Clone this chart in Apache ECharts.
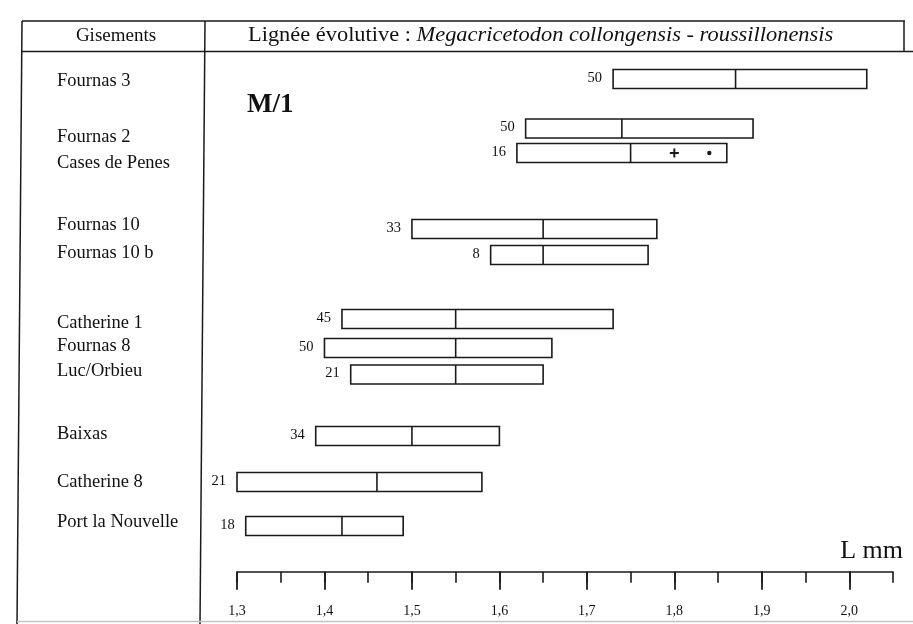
<!DOCTYPE html>
<html>
<head>
<meta charset="utf-8">
<script src="https://cdn.jsdelivr.net/npm/echarts@6/dist/echarts.min.js"></script>
<style>
  html, body { margin: 0; padding: 0; background: #fff; }
  #chart { width: 913px; height: 624px; }
</style>
</head>
<body>
<div id="chart"></div>
<script>
// ---- Data ----
const sites = ['Fournas 3', 'Fournas 2', 'Cases de Penes', 'Fournas 10', 'Fournas 10 b',
  'Catherine 1', 'Fournas 8', 'Luc/Orbieu', 'Baixas', 'Catherine 8', 'Port la Nouvelle'];
const nValues = [50, 50, 16, 33, 8, 45, 50, 21, 34, 21, 18];
const minValues = [1.73, 1.63, 1.62, 1.50, 1.59, 1.42, 1.40, 1.43, 1.39, 1.30, 1.31];
const medianValues = [1.87, 1.74, 1.75, 1.65, 1.65, 1.55, 1.55, 1.55, 1.50, 1.46, 1.42];
const maxValues = [2.02, 1.89, 1.86, 1.78, 1.77, 1.73, 1.66, 1.65, 1.60, 1.58, 1.49];
// vertical row positions (rows of the figure, in row units)
const rowPos = [1.08, 3.06, 4.04, 7.08, 8.12, 10.68, 11.84, 12.9, 15.36, 17.2, 18.96];
const labelRow = [1.15, 3.41, 4.43, 6.92, 8.04, 10.83, 11.75, 12.76, 15.28, 17.21, 18.79];
// extra marks on the Cases de Penes bar: '+' and '•'
const casesMarks = [1.80, 1.84];
const majorTicks = [1.3, 1.4, 1.5, 1.6, 1.7, 1.8, 1.9, 2.0];

const INK = '#1a1a1a';
const SERIF = '"Liberation Serif", "DejaVu Serif", serif';

const chart = echarts.init(document.getElementById('chart'), null, { renderer: 'canvas' });

const gridBase = { left: 237, right: 20, top: 52, bottom: 52.3 };

const boxData = sites.map((s, i) => [minValues[i], medianValues[i], maxValues[i], rowPos[i], nValues[i]]);
const labelData = sites.map((s, i) => [1.3, labelRow[i], s]);

const option = {
  animation: false,
  backgroundColor: '#fff',
  grid: [Object.assign({}, gridBase), Object.assign({}, gridBase)],
  xAxis: [
    {
      type: 'value', gridIndex: 0, min: 1.3, max: 2.05, interval: 0.05, position: 'bottom',
      axisLine: { show: true, onZero: false, lineStyle: { color: INK, width: 1.5 } },
      axisTick: { show: true, inside: false, length: 11, lineStyle: { color: INK, width: 1.6 } },
      axisLabel: { show: false },
      splitLine: { show: false }
    },
    {
      type: 'value', gridIndex: 1, min: 1.3, max: 2.05, interval: 0.1, position: 'bottom',
      axisLine: { show: false, onZero: false },
      axisTick: { show: true, inside: false, length: 18, customValues: majorTicks,
        lineStyle: { color: INK, width: 1.8 } },
      axisLabel: { show: true, customValues: majorTicks, margin: 33,
        fontFamily: SERIF, fontSize: 14, color: '#111',
        formatter: v => v.toFixed(1).replace('.', ',') },
      splitLine: { show: false }
    }
  ],
  yAxis: [
    { type: 'value', gridIndex: 0, min: 0, max: 20.79, inverse: true, show: false },
    { type: 'value', gridIndex: 1, min: 0, max: 20.79, inverse: true, show: false }
  ],
  series: [
    {
      type: 'custom', xAxisIndex: 0, yAxisIndex: 0, clip: false,
      data: boxData,
      renderItem: function (params, api) {
        const y = api.value(3);
        const lo = api.coord([api.value(0), y]);
        const me = api.coord([api.value(1), y]);
        const hi = api.coord([api.value(2), y]);
        const h = 19;
        return {
          type: 'group',
          children: [
            { type: 'rect', shape: { x: lo[0], y: lo[1] - h / 2, width: hi[0] - lo[0], height: h },
              style: { fill: '#fff', stroke: INK, lineWidth: 1.6 } },
            { type: 'line', shape: { x1: me[0], y1: lo[1] - h / 2, x2: me[0], y2: lo[1] + h / 2 },
              style: { stroke: INK, lineWidth: 1.6 } },
            { type: 'text', x: lo[0] - 11, y: lo[1] - 1,
              style: { text: String(api.value(4)), fill: '#111', font: '14.5px ' + SERIF,
                align: 'right', verticalAlign: 'middle' } }
          ]
        };
      }
    },
    {
      type: 'custom', xAxisIndex: 0, yAxisIndex: 0, clip: false,
      data: casesMarks.map((v, i) => [v, rowPos[2], i]),
      renderItem: function (params, api) {
        const p = api.coord([api.value(0), api.value(1)]);
        if (api.value(2) === 0) {
          return { type: 'group', children: [
            { type: 'line', shape: { x1: p[0] - 4.5, y1: p[1], x2: p[0] + 4.5, y2: p[1] }, style: { stroke: INK, lineWidth: 2 } },
            { type: 'line', shape: { x1: p[0], y1: p[1] - 4.5, x2: p[0], y2: p[1] + 4.5 }, style: { stroke: INK, lineWidth: 2 } }
          ]};
        }
        return { type: 'circle', shape: { cx: p[0], cy: p[1], r: 2.2 }, style: { fill: INK } };
      }
    },
    {
      type: 'custom', xAxisIndex: 0, yAxisIndex: 0, clip: false,
      data: labelData,
      renderItem: function (params, api) {
        const p = api.coord([api.value(0), api.value(1)]);
        return { type: 'text', x: 57, y: p[1],
          style: { text: labelData[params.dataIndex][2], fill: '#111', font: '18.5px ' + SERIF,
            align: 'left', verticalAlign: 'middle' } };
      }
    }
  ],
  graphic: [
    // frame
    { type: 'line', shape: { x1: 22, y1: 21, x2: 905, y2: 21 }, style: { stroke: INK, lineWidth: 1.5 } },
    { type: 'line', shape: { x1: 22, y1: 51.5, x2: 913, y2: 51.5 }, style: { stroke: INK, lineWidth: 1.5 } },
    { type: 'line', shape: { x1: 904, y1: 21, x2: 904, y2: 51.5 }, style: { stroke: INK, lineWidth: 1.5 } },
    { type: 'line', shape: { x1: 22, y1: 21, x2: 17, y2: 624 }, style: { stroke: INK, lineWidth: 1.5 } },
    { type: 'line', shape: { x1: 205, y1: 21, x2: 200, y2: 624 }, style: { stroke: INK, lineWidth: 1.5 } },
    { type: 'line', shape: { x1: 17, y1: 621.5, x2: 913, y2: 621.5 }, style: { stroke: '#c4c4c4', lineWidth: 1.5 } },
    // header texts
    { type: 'text', x: 116, y: 36, style: { text: 'Gisements', font: '19px ' + SERIF, fill: '#111',
      align: 'center', verticalAlign: 'middle' } },
    { type: 'text', x: 248, y: 36, scaleX: 1.12, style: {
      text: '{n|Lignée évolutive : }{i|Megacricetodon collongensis - roussillonensis}',
      verticalAlign: 'middle', align: 'left',
      rich: { n: { font: '20px ' + SERIF, fill: '#111' }, i: { font: 'italic 20px ' + SERIF, fill: '#111' } } } },
    // panel annotations
    { type: 'text', x: 247, y: 105, style: { text: 'M/1', font: 'bold 27px ' + SERIF, fill: '#111',
      align: 'left', verticalAlign: 'middle' } },
    { type: 'text', x: 903, y: 551, style: { text: 'L mm', font: '26px ' + SERIF, fill: '#111',
      align: 'right', verticalAlign: 'middle' } }
  ]
};
chart.setOption(option);
</script>
</body>
</html>
